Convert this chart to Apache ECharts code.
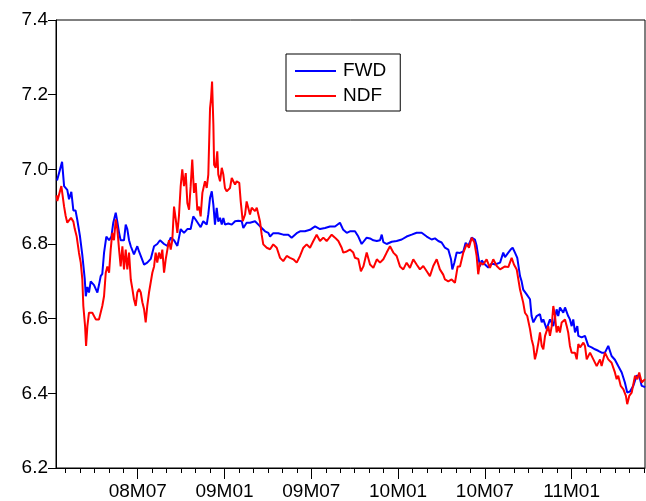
<!DOCTYPE html>
<html>
<head>
<meta charset="utf-8">
<script src="https://cdn.jsdelivr.net/npm/echarts@6/dist/echarts.min.js"></script>
<style>
  html, body { margin: 0; padding: 0; background: #fff; }
  #chart { width: 646px; height: 501px; }
</style>
</head>
<body>
<div id="chart"></div>
<script>
// 时间：以 2008M01 为 0 的月份序号
var fwdMonth = [0.42,0.77,0.91,1.13,1.25,1.41,1.55,1.70,1.82,2.01,
  2.17,2.24,2.34,2.41,2.52,2.63,2.75,2.98,3.10,3.21,
  3.32,3.44,3.55,3.67,3.83,4.02,4.18,4.31,4.48,4.59,
  4.71,4.82,4.94,5.05,5.17,5.28,5.40,5.52,5.74,5.97,
  6.09,6.21,6.44,6.66,6.90,7.13,7.35,7.54,7.82,8.05,
  8.28,8.51,8.74,8.97,9.20,9.43,9.66,9.84,10.01,10.12,
  10.35,10.53,10.77,10.88,11.00,11.12,11.23,11.34,11.46,11.57,
  11.69,11.81,11.92,12.03,12.26,12.50,12.73,12.95,13.19,13.30,
  13.53,13.76,14.11,14.34,14.57,14.80,15.03,15.15,15.37,15.72,
  16.06,16.41,16.64,16.99,17.22,17.56,17.91,18.26,18.60,18.95,
  19.29,19.64,19.98,20.21,20.45,20.67,21.02,21.25,21.48,21.60,
  21.83,22.06,22.29,22.53,22.75,22.87,22.98,23.21,23.56,23.90,
  24.25,24.59,24.94,25.28,25.63,25.98,26.32,26.55,26.78,27.01,
  27.24,27.47,27.66,27.75,27.89,28.05,28.28,28.51,28.67,28.85,
  29.09,29.31,29.43,29.54,29.66,29.78,30.01,30.23,30.47,30.70,
  31.05,31.27,31.39,31.62,31.78,31.92,32.08,32.24,32.43,32.54,
  32.65,32.89,33.12,33.23,33.35,33.58,33.81,33.93,34.04,34.27,
  34.50,34.73,34.96,35.07,35.19,35.42,35.54,35.76,35.88,36.00,
  36.11,36.23,36.39,36.46,36.69,36.92,37.15,37.38,37.61,37.84,
  38.07,38.30,38.53,38.76,38.99,39.22,39.46,39.68,39.84,40.03,
  40.26,40.49,40.67,40.84,41.00,41.07];
var fwdValue = [6.97,7.02,6.955,6.945,6.92,6.94,6.89,6.89,6.865,6.82,
  6.77,6.775,6.705,6.66,6.685,6.67,6.70,6.69,6.695,6.67,
  6.69,6.714,6.72,6.776,6.82,6.81,6.82,6.857,6.884,6.86,
  6.83,6.81,6.81,6.81,6.852,6.84,6.81,6.794,6.772,6.794,
  6.78,6.775,6.745,6.75,6.76,6.794,6.80,6.81,6.80,6.795,
  6.817,6.81,6.795,6.84,6.83,6.84,6.84,6.874,6.865,6.86,
  6.845,6.861,6.852,6.88,6.924,6.941,6.905,6.852,6.897,6.86,
  6.87,6.852,6.87,6.852,6.855,6.852,6.861,6.862,6.861,6.843,
  6.857,6.857,6.861,6.852,6.843,6.834,6.83,6.82,6.829,6.829,
  6.825,6.825,6.817,6.829,6.834,6.834,6.838,6.847,6.84,6.843,
  6.847,6.847,6.857,6.838,6.83,6.834,6.834,6.82,6.80,6.805,
  6.817,6.815,6.81,6.808,6.81,6.825,6.805,6.80,6.806,6.808,
  6.812,6.82,6.825,6.83,6.83,6.82,6.812,6.815,6.808,6.804,
  6.79,6.785,6.759,6.732,6.75,6.777,6.776,6.78,6.803,6.795,
  6.817,6.812,6.795,6.767,6.74,6.756,6.745,6.737,6.748,6.745,
  6.75,6.777,6.765,6.777,6.785,6.79,6.777,6.763,6.714,6.70,
  6.678,6.665,6.652,6.607,6.59,6.607,6.612,6.59,6.598,6.572,
  6.598,6.58,6.625,6.607,6.63,6.616,6.63,6.607,6.598,6.58,
  6.598,6.563,6.58,6.554,6.55,6.554,6.527,6.523,6.518,6.514,
  6.509,6.509,6.527,6.50,6.49,6.473,6.456,6.429,6.402,6.405,
  6.42,6.447,6.447,6.42,6.418,6.416];

var ndfMonth = [0.39,0.44,0.72,0.91,1.02,1.13,1.25,1.39,1.55,1.65,
  1.78,1.94,2.06,2.17,2.24,2.36,2.43,2.52,2.63,2.86,
  2.98,3.10,3.21,3.32,3.44,3.55,3.67,3.79,3.90,4.02,
  4.13,4.24,4.36,4.48,4.59,4.71,4.82,4.94,5.05,5.17,
  5.28,5.40,5.52,5.63,5.74,5.86,5.97,6.09,6.21,6.32,
  6.44,6.55,6.66,6.78,6.90,7.01,7.13,7.24,7.35,7.47,
  7.59,7.70,7.82,7.94,8.05,8.16,8.28,8.39,8.51,8.63,
  8.74,8.85,8.97,9.08,9.20,9.32,9.43,9.55,9.66,9.77,
  9.89,10.01,10.12,10.24,10.35,10.47,10.53,10.65,10.77,10.88,
  11.00,11.07,11.14,11.23,11.28,11.39,11.50,11.57,11.69,11.81,
  11.92,12.03,12.15,12.38,12.50,12.61,12.73,12.84,13.02,13.12,
  13.26,13.42,13.53,13.64,13.76,13.88,14.11,14.23,14.34,14.45,
  14.57,14.68,14.92,15.15,15.37,15.61,15.84,16.06,16.30,16.53,
  16.76,16.99,17.22,17.45,17.68,17.91,18.14,18.37,18.60,18.83,
  19.06,19.41,19.64,19.87,20.10,20.21,20.45,20.67,20.90,21.02,
  21.25,21.43,21.60,21.83,22.06,22.29,22.53,22.75,22.98,23.21,
  23.44,23.67,23.90,24.13,24.36,24.59,24.82,25.05,25.28,25.51,
  25.74,25.98,26.20,26.43,26.67,26.89,27.12,27.24,27.47,27.70,
  27.93,28.12,28.28,28.51,28.75,28.90,29.09,29.27,29.43,29.54,
  29.66,29.89,30.12,30.35,30.58,30.82,31.05,31.16,31.39,31.62,
  31.85,32.01,32.20,32.43,32.65,32.77,32.93,33.12,33.23,33.35,
  33.46,33.58,33.70,33.81,33.93,34.04,34.16,34.27,34.38,34.50,
  34.62,34.73,34.85,34.96,35.07,35.19,35.31,35.54,35.66,35.76,
  35.88,36.00,36.23,36.35,36.46,36.58,36.81,36.92,37.04,37.27,
  37.50,37.73,37.96,38.07,38.30,38.53,38.76,38.99,39.11,39.22,
  39.39,39.57,39.75,39.84,39.98,40.15,40.38,40.54,40.67,40.84,
  41.07];
var ndfValue = [6.93,6.915,6.955,6.90,6.875,6.857,6.86,6.87,6.86,6.84,
  6.82,6.776,6.75,6.705,6.634,6.58,6.527,6.58,6.616,6.616,
  6.612,6.598,6.594,6.598,6.598,6.634,6.66,6.723,6.74,6.723,
  6.785,6.83,6.81,6.866,6.84,6.785,6.74,6.794,6.732,6.785,
  6.732,6.777,6.705,6.68,6.652,6.634,6.67,6.68,6.67,6.644,
  6.625,6.59,6.634,6.67,6.67,6.723,6.74,6.777,6.75,6.777,
  6.76,6.785,6.723,6.76,6.785,6.81,6.785,6.81,6.90,6.866,
  6.83,6.875,6.955,7.00,6.955,6.99,6.91,6.892,6.955,7.026,
  6.937,6.963,6.89,6.90,6.874,6.937,6.932,6.968,6.95,6.986,
  7.164,7.19,7.235,7.12,7.012,7.004,7.048,6.986,6.968,7.004,
  6.986,6.95,6.941,6.95,6.977,6.968,6.959,6.968,6.964,6.914,
  6.861,6.879,6.914,6.897,6.879,6.897,6.888,6.897,6.879,6.861,
  6.825,6.799,6.79,6.786,6.799,6.79,6.763,6.754,6.768,6.763,
  6.759,6.75,6.768,6.79,6.799,6.79,6.808,6.825,6.808,6.817,
  6.808,6.825,6.817,6.808,6.79,6.777,6.78,6.785,6.777,6.763,
  6.76,6.727,6.74,6.777,6.745,6.736,6.759,6.75,6.759,6.777,
  6.794,6.777,6.768,6.74,6.732,6.75,6.736,6.759,6.745,6.732,
  6.741,6.727,6.714,6.741,6.759,6.732,6.718,6.705,6.70,6.705,
  6.696,6.74,6.74,6.777,6.80,6.79,6.817,6.805,6.768,6.719,
  6.75,6.745,6.759,6.736,6.759,6.741,6.732,6.728,6.74,6.738,
  6.763,6.745,6.732,6.678,6.643,6.616,6.607,6.572,6.545,6.527,
  6.491,6.51,6.536,6.563,6.527,6.518,6.554,6.554,6.58,6.554,
  6.58,6.634,6.607,6.563,6.58,6.563,6.59,6.598,6.58,6.563,
  6.527,6.509,6.509,6.491,6.532,6.523,6.536,6.527,6.491,6.509,
  6.491,6.473,6.491,6.473,6.509,6.491,6.482,6.456,6.438,6.447,
  6.42,6.411,6.393,6.371,6.393,6.402,6.447,6.438,6.456,6.429,
  6.438];

// 刻度：每月一个小刻度，1月/7月为大刻度并标注
var minorTicks = [];
for (var i = 1; i <= 41; i++) minorTicks.push(i);
var majorTicks = [6, 12, 18, 24, 30, 36];

function zip(xs, ys) {
  var out = [];
  for (var i = 0; i < Math.min(xs.length, ys.length); i++) out.push([xs[i], ys[i]]);
  return out;
}

function monthLabel(v) {
  var m = Math.round(v);
  var yy = 8 + Math.floor(m / 12);
  var mm = m % 12 + 1;
  return (yy < 10 ? '0' : '') + yy + 'M' + (mm < 10 ? '0' : '') + mm;
}

var chart = echarts.init(document.getElementById('chart'));
var font = 'Liberation Sans, Arial, sans-serif';

var option = {
  backgroundColor: '#fff',
  animation: false,
  grid: {
    left: 56, top: 20, right: 1, bottom: 32,
    show: true, borderColor: '#000', borderWidth: 1, backgroundColor: 'transparent'
  },
  legend: {
    orient: 'vertical',
    left: 286, top: 54,
    padding: [7, 14, 5, 9],
    itemWidth: 41, itemHeight: 2, itemGap: 5,
    icon: 'rect',
    borderColor: '#000', borderWidth: 1,
    textStyle: { fontSize: 19, lineHeight: 20, fontFamily: font, color: '#000', padding: [0, 0, 0, 2] },
    data: ['FWD', 'NDF']
  },
  xAxis: [{
    type: 'value', min: 0.35, max: 41.07,
    axisLine: { show: true, lineStyle: { color: '#000', width: 1 } },
    axisTick: { show: true, length: 5, customValues: minorTicks, lineStyle: { color: '#000' } },
    axisLabel: { show: false },
    splitLine: { show: false }
  }, {
    type: 'value', min: 0.35, max: 41.07, position: 'bottom',
    axisLine: { show: false },
    axisTick: { show: true, length: 11, customValues: majorTicks, lineStyle: { color: '#000' } },
    axisLabel: {
      show: true, customValues: majorTicks, margin: 14,
      fontSize: 19, fontFamily: font, color: '#000',
      formatter: monthLabel
    },
    splitLine: { show: false }
  }],
  yAxis: {
    type: 'value', min: 6.2, max: 7.4, interval: 0.2,
    axisLine: { show: true, lineStyle: { color: '#000', width: 1 } },
    axisTick: { show: true, length: 8, lineStyle: { color: '#000' } },
    axisLabel: {
      margin: 8, fontSize: 19, fontFamily: font, color: '#000',
      formatter: function (v) { return v.toFixed(1); }
    },
    splitLine: { show: false }
  },
  series: [{
    name: 'FWD', type: 'line', xAxisIndex: 0,
    showSymbol: false, symbol: 'none',
    lineStyle: { color: '#0000FF', width: 2 },
    itemStyle: { color: '#0000FF' },
    data: zip(fwdMonth, fwdValue)
  }, {
    name: 'NDF', type: 'line', xAxisIndex: 0,
    showSymbol: false, symbol: 'none',
    lineStyle: { color: '#FF0000', width: 2 },
    itemStyle: { color: '#FF0000' },
    data: zip(ndfMonth, ndfValue)
  }]
};
chart.setOption(option);
</script>
</body>
</html>
